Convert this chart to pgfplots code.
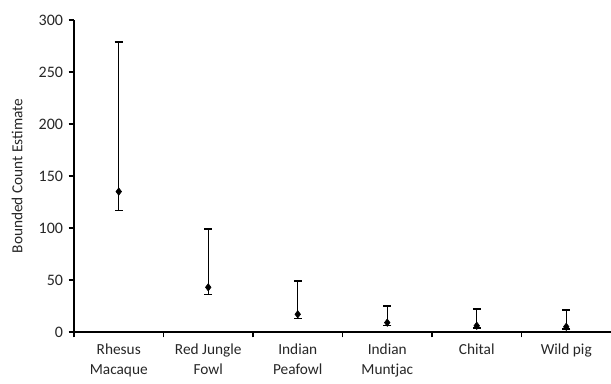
\documentclass[border=0pt]{standalone}
\usepackage{pgfplots}
\pgfplotsset{compat=1.18}
\usepackage{fontspec}
\setmainfont{Carlito}
\begin{document}
\fontsize{12}{14}\selectfont
\begin{tikzpicture}
\path[use as bounding box] (-55.5pt,-39pt) rectangle (402.75pt,249pt);
\begin{axis}[
  scale only axis,
  width=402.75pt, height=234pt,
  xmin=0, xmax=6, ymin=0, ymax=300,
  axis lines*=left,
  axis line style={black, line width=1.2pt},
  x axis line style={line width=1.6pt},
  xtick={0,1,2,3,4,5},
  xticklabels={},
  ytick={0,50,100,150,200,250,300},
  tick align=outside,
  major tick length=4pt,
  tick style={black, line width=0.8pt},
  extra x ticks={0.5,1.5,2.5,3.5,4.5,5.5},
  extra x tick labels={{Rhesus\\Macaque},{Red Jungle\\Fowl},{Indian\\Peafowl},{Indian\\Muntjac},{Chital},{Wild pig}},
  extra x tick style={major tick length=0pt, tick label style={align=center, yshift=-5pt, font=\fontsize{11.5}{15}\selectfont}},
  /pgf/number format/assume math mode=true,
  ticklabel style={font=\fontsize{12}{14}\selectfont, text=black!85},
  ylabel={Bounded Count Estimate},
  ylabel style={font=\fontsize{11.5}{13}\selectfont, text=black!85, at={(axis description cs:-0.106,0.5)}, anchor=center},
  clip=false,
]
\addplot+[only marks, black, mark=diamond*, mark size=2.8pt, mark options={black, fill=black},
  error bars/.cd, y dir=both, y explicit,
  error bar style={black, line width=1.1pt},
  error mark options={black, mark size=3pt, line width=1.1pt, rotate=90}]
coordinates {
  (0.5,135) += (0,144) -= (0,18)
  (1.5,43) += (0,56) -= (0,7)
  (2.5,17) += (0,32) -= (0,4)
  (3.5,9) += (0,16) -= (0,2.5)
  (4.5,6) += (0,16) -= (0,2)
  (5.5,5) += (0,16) -= (0,2)
};
\end{axis}
\end{tikzpicture}
\end{document}
